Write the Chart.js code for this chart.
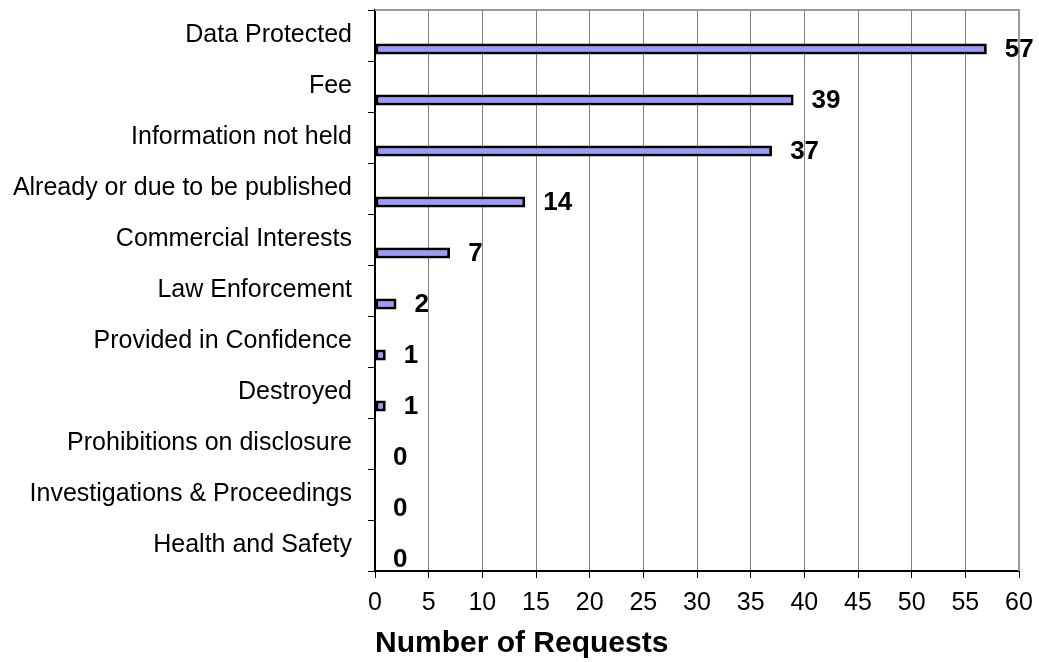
<!DOCTYPE html>
<html>
<head>
<meta charset="utf-8">
<script src="https://cdn.jsdelivr.net/npm/chart.js@4/dist/chart.umd.min.js"></script>
<style>
  html, body { margin: 0; padding: 0; background: #ffffff; }
  #wrap { width: 1039px; height: 662px; position: relative; }
</style>
</head>
<body>
<div id="wrap"><canvas id="chart"></canvas></div>
<script>
const categories = [
  "Data Protected",
  "Fee",
  "Information not held",
  "Already or due to be published",
  "Commercial Interests",
  "Law Enforcement",
  "Provided in Confidence",
  "Destroyed",
  "Prohibitions on disclosure",
  "Investigations & Proceedings",
  "Health and Safety",
]
const requests = [57, 39, 37, 14, 7, 2, 1, 1, 0, 0, 0]
const xTicks = [0, 5, 10, 15, 20, 25, 30, 35, 40, 45, 50, 55, 60]

const fontFamily = "'Liberation Sans', Arial, sans-serif"

// grey frame on the top and right of the plot area
const frame = {
  id: "frame",
  beforeDatasetsDraw(chart) {
    const { ctx, chartArea } = chart
    ctx.save()
    ctx.strokeStyle = "#999999"
    ctx.lineWidth = 2
    ctx.beginPath()
    ctx.moveTo(chartArea.left, chartArea.top)
    ctx.lineTo(chartArea.right, chartArea.top)
    ctx.lineTo(chartArea.right, chartArea.bottom)
    ctx.stroke()
    ctx.restore()
  },
}

// bold value next to the end of every bar
const valueLabels = {
  id: "valueLabels",
  afterDatasetsDraw(chart) {
    const { ctx } = chart
    const meta = chart.getDatasetMeta(1)
    ctx.save()
    ctx.font = `bold 26px ${fontFamily}`
    ctx.fillStyle = "#000000"
    ctx.textAlign = "left"
    ctx.textBaseline = "middle"
    meta.data.forEach((bar, i) => {
      ctx.fillText(String(requests[i]), bar.x + 18, bar.y + 1)
    })
    ctx.restore()
  },
}

new Chart(document.getElementById("chart"), {
  type: "bar",
  data: {
    labels: categories,
    datasets: [
      {
        // empty slot so the real bar sits in the lower half of each row
        label: "spacer",
        data: categories.map(() => null),
      },
      {
        label: "Number of Requests",
        data: requests,
        backgroundColor: "#9999ff",
        borderColor: "#000000",
        borderWidth: 3,
        borderSkipped: false,
      },
    ],
  },
  options: {
    indexAxis: "y",
    responsive: true,
    maintainAspectRatio: false,
    animation: false,
    categoryPercentage: 1.06,
    barPercentage: 0.41,
    layout: {
      padding: { top: 10, right: 20, bottom: 0, left: 0 },
    },
    scales: {
      x: {
        type: "linear",
        min: 0,
        max: 60,
        afterBuildTicks: (scale) => {
          scale.ticks = xTicks.map((value) => ({ value }))
        },
        afterFit: (scale) => {
          scale.height = 91
          scale.paddingLeft = 0
          scale.paddingRight = 0
        },
        grid: {
          color: "#808080",
          lineWidth: 1,
          tickColor: "#000000",
          tickLength: 7,
        },
        border: { color: "#000000", width: 2 },
        ticks: {
          color: "#000000",
          padding: 10,
          maxRotation: 0,
          autoSkip: false,
          font: { family: fontFamily, size: 25 },
        },
        title: {
          display: true,
          text: "Number of Requests",
          align: "start",
          color: "#000000",
          padding: { top: 0, bottom: 0 },
          font: { family: fontFamily, size: 30, weight: "bold" },
        },
      },
      y: {
        afterFit: (scale) => {
          scale.width = 375
          scale.paddingTop = 0
          scale.paddingBottom = 0
        },
        grid: {
          drawOnChartArea: false,
          tickColor: "#000000",
          tickLength: 7,
        },
        border: { color: "#000000", width: 2 },
        ticks: {
          color: "#000000",
          padding: 16,
          autoSkip: false,
          font: { family: fontFamily, size: 25 },
        },
      },
    },
    plugins: {
      legend: { display: false },
      tooltip: { enabled: false },
    },
  },
  plugins: [frame, valueLabels],
})
</script>
</body>
</html>
